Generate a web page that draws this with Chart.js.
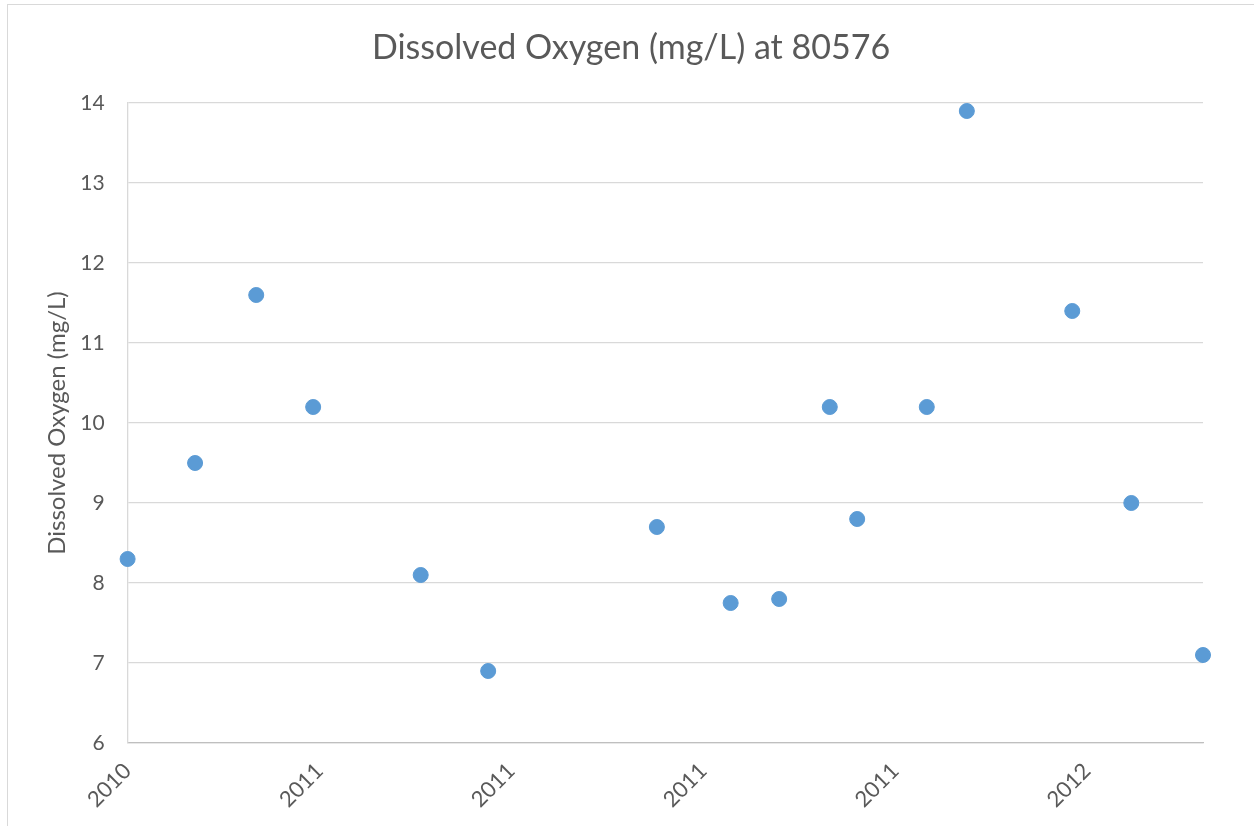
<!DOCTYPE html>
<html>
<head>
<meta charset="utf-8">
<script src="https://cdn.jsdelivr.net/npm/chart.js@4"></script>
<style>
  html, body { margin: 0; padding: 0; background: #fff; }
  #wrap { width: 1254px; height: 826px; }
</style>
</head>
<body>
<div id="wrap"><canvas id="doChart" width="1254" height="826"></canvas></div>
<script>
// Sampling dates and dissolved oxygen readings (mg/L) for station 80576
const sampleDates = [
  '2010-10-20', '2010-11-21', '2010-12-20', '2011-01-16',
  '2011-03-08', '2011-04-09', '2011-06-28', '2011-08-02',
  '2011-08-25', '2011-09-18', '2011-10-01', '2011-11-03',
  '2011-11-22', '2012-01-11', '2012-02-08', '2012-03-13'
];
const oxygenValues = [
  8.3, 9.5, 11.6, 10.2,
  8.1, 6.9, 8.7, 7.75,
  7.8, 10.2, 8.8, 10.2,
  13.9, 11.4, 9.0, 7.1
];

// date axis: one tick every 91 days from the first sample, labelled by year
const xTickLabels = ['2010', '2011', '2011', '2011', '2011', '2012'];
const xTickStepDays = 91;
const yMin = 6;
const yMax = 14;

const dayOf = s => Date.parse(s + 'T00:00:00Z') / 86400000;
const firstDay = dayOf(sampleDates[0]);
const points = sampleDates.map((d, i) => ({ x: dayOf(d) - firstDay, y: oxygenValues[i] }));

const textColor = '#595959';
Chart.defaults.font.family = 'Lato, "Open Sans", sans-serif';
Chart.defaults.color = textColor;

// white page plus the thin chart-area frame
const frame = {
  id: 'frame',
  beforeDraw(chart) {
    const ctx = chart.ctx;
    ctx.save();
    ctx.fillStyle = '#fff';
    ctx.fillRect(0, 0, chart.width, chart.height);
    ctx.strokeStyle = '#d9d9d9';
    ctx.lineWidth = 1;
    ctx.strokeRect(7.5, 4.5, chart.width + 20, chart.height + 20);
    ctx.restore();
  }
};

// centre the title on the whole frame rather than the padded area
const wideTitle = {
  id: 'wideTitle',
  afterLayout(chart) {
    const t = chart.titleBlock;
    if (!t) return;
    t.left = 8;
    t.right = chart.width;
    t.width = t.right - t.left;
  }
};

new Chart(document.getElementById('doChart'), {
  type: 'scatter',
  data: {
    datasets: [{
      label: 'Dissolved Oxygen (mg/L)',
      data: points,
      backgroundColor: '#5b9bd5',
      borderColor: '#5b9bd5',
      pointRadius: 7.5,
      pointHoverRadius: 7.5,
      clip: false
    }]
  },
  options: {
    responsive: false,
    animation: false,
    layout: { padding: { left: 0, right: 51, top: 0, bottom: 0 } },
    plugins: {
      legend: { display: false },
      tooltip: { enabled: false },
      title: {
        display: true,
        text: 'Dissolved Oxygen (mg/L) at 80576',
        color: textColor,
        font: { size: 34, weight: 'normal', lineHeight: 1.2 },
        padding: { top: 28, bottom: 34.2 }
      }
    },
    scales: {
      x: {
        type: 'linear',
        min: 0,
        max: points[points.length - 1].x,
        grid: { display: false, drawTicks: false },
        border: { display: true, color: '#bfbfbf', width: 1.3 },
        afterBuildTicks: scale => {
          scale.ticks = xTickLabels.map((_, i) => ({ value: i * xTickStepDays }));
        },
        afterFit: scale => { scale.height = 83; },
        ticks: {
          autoSkip: false,
          minRotation: 45,
          maxRotation: 45,
          padding: 15,
          color: textColor,
          font: { size: 22 },
          callback: (value, index) => xTickLabels[index]
        }
      },
      y: {
        min: yMin,
        max: yMax,
        grid: { color: '#d9d9d9', lineWidth: 1.3, drawTicks: false },
        border: { display: true, color: '#d9d9d9', width: 1.3 },
        afterFit: scale => { scale.width = 127.6; },
        ticks: {
          stepSize: 1,
          padding: 23,
          color: textColor,
          font: { size: 21 }
        },
        title: {
          display: true,
          text: 'Dissolved Oxygen (mg/L)',
          color: textColor,
          font: { size: 24, lineHeight: 1.2 },
          padding: { top: 42.6, bottom: 0 }
        }
      }
    }
  },
  plugins: [frame, wideTitle]
});
</script>
</body>
</html>
